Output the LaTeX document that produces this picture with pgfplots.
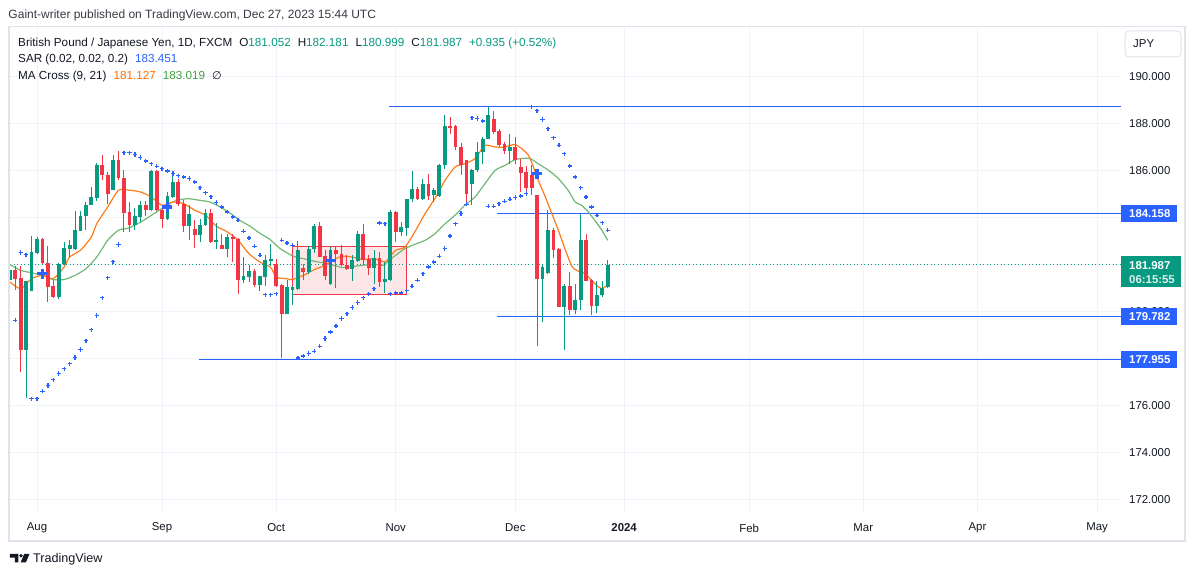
\documentclass[border=0pt]{standalone}
\usepackage{pgfplots}
\pgfplotsset{compat=1.18}
\usepackage{pgfplotstable}
\usepackage{fontspec}
\setmainfont{Liberation Sans}
\newfontfamily\dejavu{DejaVu Sans}
\definecolor{tvgreen}{HTML}{089981}
\definecolor{tvred}{HTML}{F23645}
\definecolor{tvblue}{HTML}{2962FF}
\definecolor{tvorange}{HTML}{FF6D00}
\definecolor{magreen}{HTML}{43A047}
\definecolor{tvtext}{HTML}{131722}
\definecolor{tvgrid}{HTML}{F0F3FA}
\definecolor{tvframe}{HTML}{E0E3EB}
\definecolor{rectfill}{HTML}{FDE6E8}

\pgfplotstableread{
n o h l c
-5 181.32 181.90 181.20 181.74
-2 178.37 181.30 176.31 181.28
-1 180.87 183.19 180.85 182.51
0 182.48 183.16 182.45 183.06
4 180.61 182.06 180.51 182.03
5 182.00 182.95 181.98 182.69
6 182.67 183.02 182.31 182.80
7 182.65 184.26 182.60 183.45
8 183.42 184.26 183.40 184.04
9 184.04 184.64 183.45 184.54
10 184.54 185.29 184.51 184.87
11 184.84 186.33 184.70 186.21
14 185.18 186.64 185.15 186.43
18 183.66 184.40 183.45 184.04
19 184.01 184.68 183.80 184.54
21 184.30 186.03 184.28 185.96
24 183.91 185.08 183.87 184.89
25 184.86 185.90 184.84 185.50
28 183.62 184.51 183.05 184.13
30 183.23 183.94 182.95 183.69
31 183.66 184.37 183.63 184.18
33 182.95 183.75 182.65 183.02
35 182.67 183.30 182.31 183.16
38 181.35 182.31 181.21 181.49
39 181.46 181.96 181.25 181.70
41 181.11 181.52 180.87 181.49
42 181.46 182.41 181.08 182.17
43 182.14 182.88 181.91 182.24
46 179.90 181.32 179.88 181.04
47 180.89 181.06 180.26 181.04
48 180.96 182.98 180.89 182.60
50 181.67 182.77 181.57 182.67
51 182.64 183.73 182.48 183.62
54 181.15 182.74 181.12 182.60
58 181.82 182.38 181.27 182.17
59 182.13 183.42 182.10 183.30
62 181.86 182.60 181.18 182.28
64 181.25 182.10 180.78 181.36
65 181.32 184.30 181.30 184.23
67 183.37 183.80 183.20 183.59
68 183.55 184.79 183.19 184.77
69 184.77 185.97 184.65 185.19
71 184.77 185.65 184.75 185.40
73 184.94 185.26 184.65 185.15
74 184.91 186.28 184.87 186.21
75 186.21 188.34 186.07 187.87
80 185.43 186.07 184.51 186.00
81 186.00 187.21 185.93 186.78
82 186.78 187.42 186.28 187.35
83 187.35 188.70 187.33 188.34
87 186.82 187.53 186.28 186.99
93 181.39 182.03 179.55 181.89
94 181.63 184.30 181.60 183.45
97 180.19 181.18 178.34 181.06
99 180.07 181.14 179.90 180.50
100 180.50 184.16 180.04 183.05
103 180.21 181.28 179.94 180.71
104 180.71 181.28 180.61 180.99
105 181.052 182.181 180.999 181.987
}\greentab

\pgfplotstableread{
n o h l c
-4 181.74 181.91 180.92 181.39
-3 181.42 181.91 177.42 178.37
1 183.06 183.11 182.03 182.06
2 182.07 182.77 180.40 181.04
3 181.08 181.35 180.58 180.61
12 186.21 186.64 185.57 185.79
13 185.79 185.93 184.58 184.99
15 186.43 186.81 185.57 185.67
16 185.67 186.03 183.38 184.18
17 184.23 184.65 183.38 183.66
20 184.54 184.68 184.04 184.30
22 185.96 186.03 184.25 184.30
23 184.30 184.51 183.55 183.91
26 185.50 185.62 184.47 184.58
27 184.58 184.72 183.38 183.62
29 183.52 183.90 182.71 183.23
32 184.18 184.37 182.92 182.95
34 182.81 183.30 182.64 182.67
36 183.16 183.30 182.10 183.09
37 183.09 183.12 180.72 181.32
40 181.70 181.82 181.04 181.11
44 182.03 182.24 181.03 181.06
45 181.11 181.14 178.00 179.90
49 181.86 182.03 181.32 181.67
52 183.62 183.80 182.29 182.31
53 182.34 182.60 181.32 181.49
55 182.60 182.77 181.01 182.42
56 182.42 182.81 181.91 181.99
57 181.99 182.38 181.77 181.80
60 183.30 183.73 181.96 182.20
61 182.21 182.38 181.53 181.84
63 182.28 182.52 181.04 181.25
66 184.23 184.25 182.95 183.37
70 185.19 185.29 184.72 184.77
72 185.40 185.86 184.75 184.91
76 187.87 188.27 187.56 187.82
77 187.87 187.92 186.85 186.99
78 186.99 187.14 185.79 186.21
79 186.43 186.45 184.58 185.01
84 188.20 188.53 187.56 187.63
85 187.66 187.77 186.99 187.06
86 187.13 187.21 186.71 186.82
88 186.99 187.42 186.28 186.43
89 186.14 186.50 185.08 185.89
90 185.93 186.19 184.94 185.26
91 185.79 186.21 184.94 185.26
92 184.94 184.96 178.53 181.39
95 183.45 183.55 182.27 182.60
96 182.67 182.69 180.17 180.19
98 181.06 181.67 179.83 180.07
101 183.05 183.31 181.27 181.29
102 181.32 181.39 179.83 180.21
}\redtab

\pgfplotstableread{
n v
-5 179.57
-4 179.62
-3 182.50
-2 182.41
-1 176.28
0 176.28
1 176.60
2 176.84
3 177.09
4 177.35
5 177.56
6 177.77
7 178.03
8 178.37
9 178.75
10 179.22
11 179.82
12 180.58
13 181.43
14 182.11
15 182.84
16 186.75
17 186.75
18 186.67
19 186.54
20 186.40
21 186.28
22 186.17
23 186.07
24 185.97
25 185.86
26 185.77
27 185.72
28 185.65
29 185.50
30 185.26
31 185.05
32 184.87
33 184.63
34 184.44
35 184.23
36 184.01
37 183.87
38 183.40
39 183.12
40 182.77
41 182.38
42 180.71
43 180.71
44 180.75
45 183.02
46 182.91
47 182.81
48 178.01
49 178.10
50 178.20
51 178.30
52 178.51
53 178.84
54 179.12
55 179.37
56 179.69
57 179.90
58 180.16
59 180.37
60 180.58
61 180.75
62 180.96
63 183.76
64 183.73
65 180.75
66 180.78
67 180.78
68 180.87
69 181.06
70 181.32
71 181.60
72 181.89
73 182.10
74 182.34
75 182.67
76 183.21
77 183.73
78 184.16
79 184.55
80 188.24
81 188.20
82 188.10
83 184.47
84 184.47
85 184.58
86 184.68
87 184.77
88 184.84
89 184.91
90 185.01
91 188.70
92 188.53
93 188.16
94 187.77
95 187.39
96 187.06
97 186.71
98 186.18
99 185.72
100 185.26
101 184.86
102 184.44
103 184.09
104 183.77
105 183.45
}\sartab

\pgfplotstableread{
n v
-5 181.25
-3 180.96
-1 181.39
1 181.53
3 181.39
5 181.89
6 182.31
8 182.60
10 183.16
11 183.73
13 184.44
15 185.15
17 185.15
19 185.08
21 184.87
23 184.51
25 184.65
27 184.58
29 184.30
31 184.09
33 183.62
35 183.38
37 183.02
39 182.45
41 182.10
43 181.86
44 181.46
46 181.38
47 181.35
49 181.53
51 181.77
53 181.96
54.5 182.17
56 182.34
58 182.31
60 182.20
62 182.24
64 182.10
65 182.34
66 182.60
67.7 182.74
69.5 183.38
71.4 184.16
73.2 184.80
75.1 185.58
76.9 186.14
78.7 186.28
80.6 186.50
82.4 187.06
84.3 186.99
86.1 186.99
88 187.09
90.4 186.64
92.2 185.58
93.5 184.87
94.7 184.16
95.9 183.45
97.1 182.67
98.4 181.91
99.3 181.74
100.8 181.60
102 181.32
103.3 181.04
104 180.97
105 181.127
}\smafast

\pgfplotstableread{
n v
-5 181.99
-3 181.74
-1 181.64
1 181.53
3 181.35
5 181.35
7 181.53
9 181.81
11 182.31
13 183.02
15 183.45
17 183.55
19.6 183.87
22 184.23
23.9 184.51
25.7 184.72
27.8 184.79
30 184.72
31.8 184.65
33.7 184.44
35.5 184.18
37.3 183.87
39.2 183.62
41 183.32
42.9 183.05
44.7 182.67
47.2 182.34
49 182.24
50.8 182.14
52.7 182.06
54.5 181.96
56.3 181.86
58.2 181.91
60 181.96
61.9 182.00
63.7 181.96
64.9 182.20
66.2 182.42
67.7 182.67
69.5 182.85
71.4 183.02
73.2 183.30
75.1 183.73
76.9 184.09
78.7 184.51
80.6 184.87
82.4 185.43
84.3 186.00
86.1 186.21
87.9 186.45
89.2 186.50
90.7 186.50
92.2 186.28
94.1 186.00
95.9 185.65
97.7 185.15
99 184.65
100.2 184.51
101.4 184.23
102.6 183.87
103.9 183.45
105 183.019
}\smaslow

\pgfplotstableread{
n v
1 181.60
24 184.44
54 182.17
92 185.86
}\crosstab

\newcommand{\tfont}{\fontsize{12}{14}\selectfont}
\newcommand{\hfont}{\fontsize{11.7}{14}\selectfont}
\newcommand{\afont}{\fontsize{11.4}{13}\selectfont}

\begin{document}
\begin{tikzpicture}[x=1pt,y=1pt]
\begin{axis}[
  scale only axis,
  width=1110.9pt, height=485pt,
  xmin=-4.95, xmax=199.41, ymin=171.417, ymax=192.055,
  axis line style={draw=none},
  major tick length=0pt,
  xtick={0,23,44,66,88,108,131,152,173,195},
  xticklabels={Aug,Sep,Oct,Nov,Dec,\textbf{2024},Feb,Mar,Apr,May},
  ytick={172,174,176,178,180,182,184,186,188,190},
  yticklabels={172.000,174.000,176.000,,180.000,,,186.000,188.000,190.000},
  yticklabel pos=right,
  grid=major, major grid style={draw=tvgrid, line width=1pt},
  ticklabel style={font=\afont, text=tvtext},
  yticklabel style={anchor=west, inner sep=0pt, xshift=8pt},
  xticklabel style={anchor=center, inner sep=0pt, yshift=-15pt},
  clip=true,
]
% rectangle drawing
\addplot[draw=tvred, fill=rectfill, line width=1pt, forget plot]
  coordinates {(46.96,180.71) (68.0,180.71) (68.0,182.77) (46.96,182.77)} -- cycle;
% horizontal levels
\addplot[tvblue, line width=1pt, forget plot] coordinates {(64.75,188.72) (199.41,188.72)};
\addplot[tvblue, line width=1pt, forget plot] coordinates {(84.6,184.158) (199.41,184.158)};
\addplot[tvblue, line width=1pt, forget plot] coordinates {(84.6,179.782) (199.41,179.782)};
\addplot[tvblue, line width=1pt, forget plot] coordinates {(29.8,177.955) (199.41,177.955)};
% current price dotted line
\addplot[tvgreen, line width=1.1pt, dash pattern=on 1.1pt off 2.4pt, forget plot]
  coordinates {(-4.95,181.987) (199.41,181.987)};
% moving averages
\addplot[magreen!75!white, line width=1.2pt, smooth, tension=0.4, forget plot] table[x=n,y=v] {\smaslow};
\addplot[tvorange!90!white, line width=1.2pt, smooth, tension=0.4, forget plot] table[x=n,y=v] {\smafast};
% MA cross markers
\addplot[only marks, mark=+, mark size=5pt, tvblue, mark options={line width=3.5pt}, forget plot]
  table[x=n,y=v] {\crosstab};
% candles: wicks
\addplot[draw=none, mark=none, forget plot,
  error bars/.cd, y dir=plus, y explicit, error mark=none,
  error bar style={draw=tvgreen, line width=1pt}]
  table[x=n, y=l, y error plus expr={\thisrow{h}-\thisrow{l}}] {\greentab};
\addplot[draw=none, mark=none, forget plot,
  error bars/.cd, y dir=plus, y explicit, error mark=none,
  error bar style={draw=tvred, line width=1pt}]
  table[x=n, y=l, y error plus expr={\thisrow{h}-\thisrow{l}}] {\redtab};
% candles: bodies
\addplot[draw=none, mark=none, forget plot,
  error bars/.cd, y dir=plus, y explicit, error mark=none,
  error bar style={draw=tvgreen, line width=3.8pt}]
  table[x=n, y=o, y error plus expr={\thisrow{c}-\thisrow{o}}] {\greentab};
\addplot[draw=none, mark=none, forget plot,
  error bars/.cd, y dir=plus, y explicit, error mark=none,
  error bar style={draw=tvred, line width=3.8pt}]
  table[x=n, y=c, y error plus expr={\thisrow{o}-\thisrow{c}}] {\redtab};
% parabolic SAR
\addplot[only marks, mark=+, mark size=2.1pt, tvblue, mark options={line width=1.3pt}, forget plot]
  table[x=n,y=v] {\sartab};
\coordinate (P) at (rel axis cs:0,0);
\coordinate (b1) at (axis cs:199.41,184.158);
\coordinate (b2) at (axis cs:199.41,181.987);
\coordinate (b3) at (axis cs:199.41,179.782);
\coordinate (b4) at (axis cs:199.41,177.955);
\end{axis}

% price labels
\fill[tvblue] ([yshift=-8.5pt]b1) rectangle ([xshift=56pt,yshift=8.5pt]b1);
\node[anchor=west, inner sep=0pt, text=white, font=\afont\bfseries] at ([xshift=8pt]b1) {184.158};
\fill[tvgreen] ([yshift=8.1pt]b2) rectangle ([xshift=60pt,yshift=-22.9pt]b2);
\node[anchor=west, inner sep=0pt, text=white, font=\afont\bfseries] at ([xshift=8pt,yshift=-0.5pt]b2) {181.987};
\node[anchor=west, inner sep=0pt, text=white!85!tvgreen, font=\afont\bfseries] at ([xshift=8pt,yshift=-14.5pt]b2) {06:15:55};
\fill[tvblue] ([yshift=-8.3pt]b3) rectangle ([xshift=56pt,yshift=8.3pt]b3);
\node[anchor=west, inner sep=0pt, text=white, font=\afont\bfseries] at ([xshift=8pt]b3) {179.782};
\fill[tvblue] ([yshift=-8.3pt]b4) rectangle ([xshift=56pt,yshift=8.3pt]b4);
\node[anchor=west, inner sep=0pt, text=white, font=\afont\bfseries] at ([xshift=8pt]b4) {177.955};

\begin{scope}[shift={([shift={(-10.1,-64)}]P)}]
\draw[tvframe, line width=1.6pt] (9.3,35.8) rectangle (1184.8,550.5);
% currency box
\draw[tvframe, line width=1pt, rounded corners=4pt] (1125,520) rectangle (1181,546);
\node[anchor=base west, inner sep=0pt, text=tvtext, font=\afont] at (1133,529) {JPY};
% top text
\node[anchor=base west, inner sep=0pt, text=tvtext!85!white, font=\tfont] at (8.3,558) {Gaint-writer published on TradingView.com, Dec 27, 2023 15:44 UTC};
% legend lines
\node[anchor=base west, inner sep=0pt, text=tvtext, font=\hfont] at (18,530.7)
 {British Pound / Japanese Yen, 1D, FXCM\hspace{7pt}O\textcolor{tvgreen}{181.052}\hspace{7pt}H\textcolor{tvgreen}{182.181}\hspace{7pt}L\textcolor{tvgreen}{180.999}\hspace{7pt}C\textcolor{tvgreen}{181.987}\hspace{7pt}\textcolor{tvgreen}{+0.935 (+0.52\%)}};
\node[anchor=base west, inner sep=0pt, text=tvtext, font=\hfont] at (18,514)
 {SAR (0.02, 0.02, 0.2)\hspace{7pt}\textcolor{tvblue}{183.451}};
\node[anchor=base west, inner sep=0pt, text=tvtext, font=\hfont] at (18,497.3)
 {MA Cross (9, 21)\hspace{7pt}\textcolor{tvorange}{181.127}\hspace{7pt}\textcolor{magreen}{183.019}\hspace{7pt}{\dejavu\fontsize{11}{12}\selectfont ∅}};
% TradingView logo
\fill[tvtext] (10,23) -- (18.5,23) -- (18.5,14.5) -- (14.8,14.5) -- (14.8,19.4) -- (10,19.4) -- cycle;
\fill[tvtext] (21,21.2) circle (1.8);
\fill[tvtext] (24.2,23) -- (29.5,23) -- (25.8,14.5) -- (20.6,14.5) -- cycle;
\node[anchor=base west, inner sep=0pt, text=tvtext, font=\fontsize{12.6}{14}\selectfont] at (33,14.5) {TradingView};
\pgfresetboundingbox
\path[use as bounding box] (0,0) rectangle (1195,577);
\end{scope}
\end{tikzpicture}
\end{document}
